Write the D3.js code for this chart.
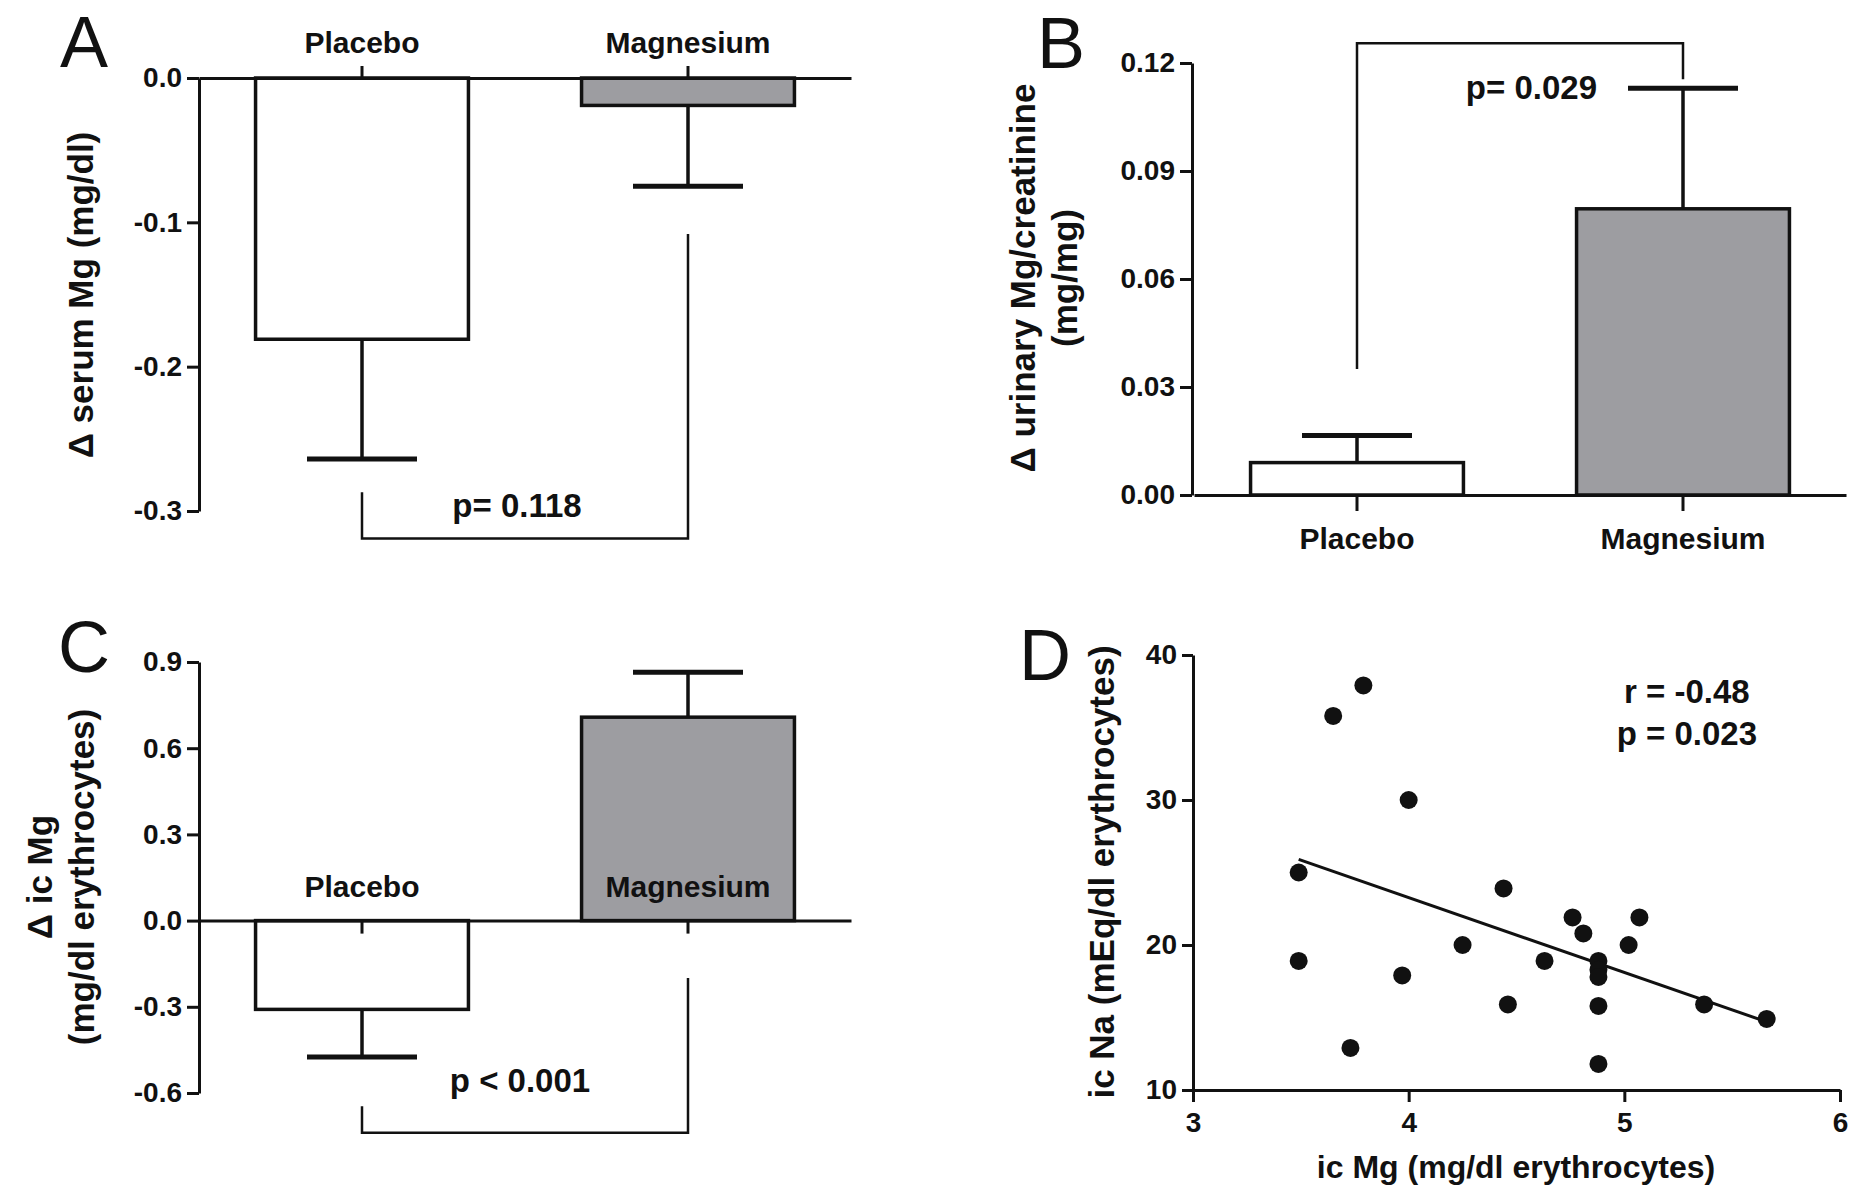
<!DOCTYPE html>
<html>
<head>
<meta charset="utf-8">
<script src="https://cdn.jsdelivr.net/npm/d3@7"></script>
<style>
  html, body { margin: 0; padding: 0; background: #fff; }
  svg text { font-family: "Liberation Sans", Arial, sans-serif; fill: #111; }
</style>
</head>
<body>
<svg id="fig" width="1854" height="1193"></svg>
<script>
const groups = ['Placebo', 'Magnesium']

// A: change in serum Mg
const serumMean = [-0.181, -0.019]
const serumSem = [0.083, 0.056]
const serumTicks = [0, -0.1, -0.2, -0.3]

// B: change in urinary Mg/creatinine
const urinaryMean = [0.0090, 0.0795]
const urinarySem = [0.0075, 0.0335]
const urinaryTicks = [0, 0.03, 0.06, 0.09, 0.12]

// C: change in intracellular Mg
const icMgMean = [-0.309, 0.708]
const icMgSem = [0.166, 0.156]
const icMgTicks = [-0.6, -0.3, 0, 0.3, 0.6, 0.9]

// D: ic Mg vs ic Na
const icMg = [3.79, 3.65, 4.00, 3.49, 4.44, 4.76, 5.07, 4.81, 4.25, 5.02, 3.49,
  4.63, 4.88, 4.88, 4.88, 3.97, 4.46, 4.88, 5.37, 5.66, 3.73, 4.88]
const icNa = [37.9, 35.8, 30.0, 25.0, 23.9, 21.9, 21.9, 20.8, 20.0, 20.0, 18.9,
  18.9, 18.9, 18.3, 17.8, 17.9, 15.9, 15.8, 15.9, 14.9, 12.9, 11.8]
const fitLine = [[3.49, 25.9], [5.66, 14.7]]
const dTicksX = [3, 4, 5, 6]
const dTicksY = [10, 20, 30, 40]
const corrText = ['r = -0.48', 'p = 0.023']

const svg = d3.select('#fig')
svg.append('rect').attr('width', 1854).attr('height', 1193).attr('fill', '#fff')

const FILL = ['#ffffff', '#9d9da1']
const TICK_FONT = 28

function styleAxis(g, fontSize = TICK_FONT) {
  g.selectAll('.domain, .tick line').attr('stroke', '#111').attr('stroke-width', 3)
  g.selectAll('text')
    .attr('font-size', fontSize)
    .attr('font-weight', 'bold')
    .attr('font-family', '"Liberation Sans", Arial, sans-serif')
    .attr('fill', '#111')
  return g
}

function drawBars(g, x, y, mean, sem) {
  const half = 55
  groups.forEach((c, i) => {
    const v = mean[i]
    const cx = x(c) + x.bandwidth() / 2
    const end = v + Math.sign(v) * sem[i]
    // error bar first so the bar outline sits on top
    g.append('line')
      .attr('x1', cx).attr('x2', cx)
      .attr('y1', y(v)).attr('y2', y(end))
      .attr('stroke', '#111').attr('stroke-width', 3.5)
    g.append('line')
      .attr('x1', cx - half).attr('x2', cx + half)
      .attr('y1', y(end)).attr('y2', y(end))
      .attr('stroke', '#111').attr('stroke-width', 5)
    g.append('rect')
      .attr('x', x(c))
      .attr('width', x.bandwidth())
      .attr('y', Math.min(y(v), y(0)))
      .attr('height', Math.abs(y(v) - y(0)))
      .attr('fill', FILL[i])
      .attr('stroke', '#111')
      .attr('stroke-width', 3.5)
  })
}

function bracket(g, pts) {
  g.append('path')
    .attr('d', d3.line()(pts))
    .attr('fill', 'none')
    .attr('stroke', '#111')
    .attr('stroke-width', 2.5)
}

function label(g, txt, x, y, opts = {}) {
  return g.append('text')
    .attr('x', x).attr('y', y)
    .attr('text-anchor', opts.anchor || 'middle')
    .attr('font-size', opts.size || 30)
    .attr('font-weight', opts.weight || 'bold')
    .text(txt)
}

function yLabel(g, lines, xs, cy, size = 35) {
  lines.forEach((t, i) => {
    g.append('text')
      .attr('transform', `translate(${xs[i]},${cy}) rotate(-90)`)
      .attr('text-anchor', 'middle')
      .attr('font-size', size)
      .attr('font-weight', 'bold')
      .text(t)
  })
}

function band(range) {
  return d3.scaleBand(groups, range).paddingInner(0.347).paddingOuter(0.1735)
}

// ---------- Panel A ----------
const gA = svg.append('g')
const xA = band([199, 851])
const yA = d3.scaleLinear().domain([0, -0.3]).range([78, 511])
drawBars(gA, xA, yA, serumMean, serumSem)
styleAxis(gA.append('g').attr('transform', 'translate(199,0)')
  .call(d3.axisLeft(yA).tickValues(serumTicks).tickFormat((v) => v.toFixed(1))
    .tickSize(12).tickPadding(5).tickSizeOuter(0)))
styleAxis(gA.append('g').attr('transform', `translate(0,${yA(0)})`)
  .call(d3.axisTop(xA).tickSize(12).tickPadding(13).tickSizeOuter(0)), 30)
const cA = groups.map((c) => xA(c) + xA.bandwidth() / 2)
bracket(gA, [[cA[0], yA(-0.287)], [cA[0], yA(-0.319)], [cA[1], yA(-0.319)], [cA[1], yA(-0.108)]])
label(gA, 'p= 0.118', 517, yA(-0.304), { size: 33 })
yLabel(gA, ['\u0394 serum Mg (mg/dl)'], [93], 295)
label(gA, 'A', 60, 67, { size: 72, weight: 'normal', anchor: 'start' })

// ---------- Panel B ----------
const gB = svg.append('g')
const xB = band([1194, 1846])
const yB = d3.scaleLinear().domain([0, 0.12]).range([495, 63])
drawBars(gB, xB, yB, urinaryMean, urinarySem)
styleAxis(gB.append('g').attr('transform', 'translate(1192,0)')
  .call(d3.axisLeft(yB).tickValues(urinaryTicks).tickFormat((v) => v.toFixed(2))
    .tickSize(12).tickPadding(5).tickSizeOuter(0)))
styleAxis(gB.append('g').attr('transform', `translate(0,${yB(0)})`)
  .call(d3.axisBottom(xB).tickSize(16).tickPadding(17).tickSizeOuter(0)), 30)
const cB = groups.map((c) => xB(c) + xB.bandwidth() / 2)
bracket(gB, [[cB[0], yB(0.035)], [cB[0], yB(0.1255)], [cB[1], yB(0.1255)], [cB[1], yB(0.1155)]])
label(gB, 'p= 0.029', 1597, yB(0.110), { size: 33, anchor: 'end' })
yLabel(gB, ['\u0394 urinary Mg/creatinine', '(mg/mg)'], [1035, 1077], 278)
label(gB, 'B', 1037, 68, { size: 72, weight: 'normal', anchor: 'start' })

// ---------- Panel C ----------
const gC = svg.append('g')
const xC = band([199, 851])
const yC = d3.scaleLinear().domain([-0.6, 0.9]).range([1093, 662])
drawBars(gC, xC, yC, icMgMean, icMgSem)
styleAxis(gC.append('g').attr('transform', 'translate(199,0)')
  .call(d3.axisLeft(yC).tickValues(icMgTicks).tickFormat((v) => v.toFixed(1))
    .tickSize(12).tickPadding(5).tickSizeOuter(0)))
styleAxis(gC.append('g').attr('transform', `translate(0,${yC(0)})`)
  .call(d3.axisBottom(xC).tickSize(13).tickFormat('').tickSizeOuter(0)))
const cC = groups.map((c) => xC(c) + xC.bandwidth() / 2)
groups.forEach((c, i) => label(gC, c, cC[i], yC(0.083), { size: 30 }))
bracket(gC, [[cC[0], yC(-0.646)], [cC[0], yC(-0.738)], [cC[1], yC(-0.738)], [cC[1], yC(-0.2)]])
label(gC, 'p < 0.001', 520, yC(-0.597), { size: 33 })
yLabel(gC, ['\u0394 ic Mg', '(mg/dl erythrocytes)'], [52, 94], 877)
label(gC, 'C', 58, 672, { size: 72, weight: 'normal', anchor: 'start' })

// ---------- Panel D ----------
const gD = svg.append('g')
const xD = d3.scaleLinear().domain([3, 6]).range([1193, 1840])
const yD = d3.scaleLinear().domain([10, 40]).range([1090, 655])
styleAxis(gD.append('g').attr('transform', `translate(0,${yD(10)})`)
  .call(d3.axisBottom(xD).tickValues(dTicksX).tickFormat(d3.format('d'))
    .tickSize(12).tickPadding(10).tickSizeOuter(0)))
styleAxis(gD.append('g').attr('transform', `translate(${xD(3)},0)`)
  .call(d3.axisLeft(yD).tickValues(dTicksY).tickFormat(d3.format('d'))
    .tickSize(11).tickPadding(5).tickSizeOuter(0)))
gD.append('path')
  .attr('d', d3.line().x((d) => xD(d[0])).y((d) => yD(d[1]))(fitLine))
  .attr('fill', 'none').attr('stroke', '#111').attr('stroke-width', 3)
gD.selectAll('circle')
  .data(d3.zip(icMg, icNa))
  .join('circle')
  .attr('cx', (d) => xD(d[0]))
  .attr('cy', (d) => yD(d[1]))
  .attr('r', 9)
  .attr('fill', '#111')
corrText.forEach((t, i) => label(gD, t, xD(5.29), yD(36.7 - i * 2.9), { size: 33 }))
yLabel(gD, ['ic Na (mEq/dl erythrocytes)'], [1114], 872)
label(gD, 'ic Mg (mg/dl erythrocytes)', 1516, 1178, { size: 32 })
label(gD, 'D', 1019, 680, { size: 72, weight: 'normal', anchor: 'start' })
</script>
</body>
</html>
